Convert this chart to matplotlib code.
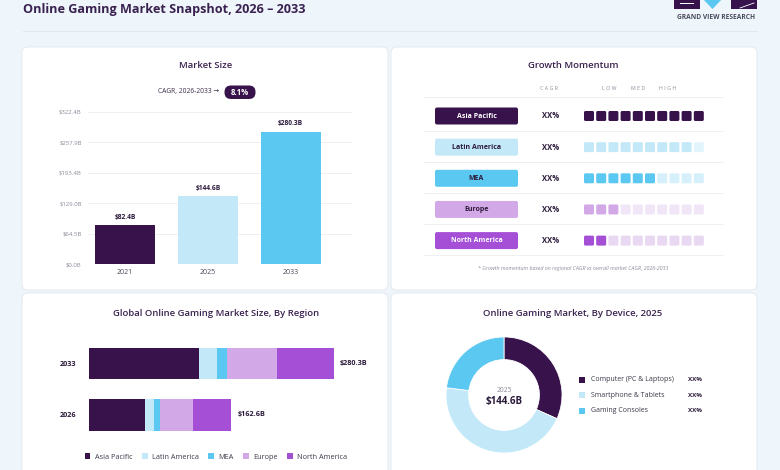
import numpy as np
import matplotlib
matplotlib.use("Agg")
import matplotlib.pyplot as plt
from matplotlib.patches import FancyBboxPatch, Rectangle, Polygon, Patch

plt.rcParams['font.family'] = ['Open Sans', 'DejaVu Sans']

W, H = 780, 470

# ---- data ----
years = ['2021', '2025', '2033']
market_size = [82.4, 144.6, 280.3]
y_ticks = [0.0, 64.5, 129.0, 193.4, 257.9, 322.4]
cagr_text = '8.1%'

regions = ['Asia Pacific', 'Latin America', 'MEA', 'Europe', 'North America']
momentum_level = [10, 9, 6, 3, 2]
momentum_cagr = ['XX%', 'XX%', 'XX%', 'XX%', 'XX%']

region_years = ['2026', '2033']
asia_pacific = [63.7, 125.8]
latin_america = [11.0, 20.6]
mea = [6.5, 11.4]
europe = [37.4, 57.2]
north_america = [44.0, 65.3]
region_totals = [162.6, 280.3]

devices = ['Computer (PC & Laptops)', 'Smartphone & Tablets', 'Gaming Consoles']
device_share = [31.7, 45.3, 23.0]
device_pct = ['XX%', 'XX%', 'XX%']
device_total = '$144.6B'

# ---- style ----
dark = '#38124a'
lblue = '#c3e9f8'
sky = '#5bc8f1'
lav = '#d3a8e6'
purple = '#a54fd7'
region_colors = [dark, lblue, sky, lav, purple]
pale_colors = ['#efe8f3', '#e3f5fc', '#d6f0fb', '#f1e6f7', '#e8d8f2']
title_col = '#3a2250'
text_dark = '#2b1a3a'
gray = '#8a8a99'

fig = plt.figure(figsize=(7.8, 4.7), dpi=100)
fig.patch.set_facecolor('#eef5fb')


def add_ax(x0, y0, x1, y1):
    return fig.add_axes([x0 / W, 1 - y1 / H, (x1 - x0) / W, (y1 - y0) / H])


canvas = fig.add_axes([0, 0, 1, 1])
canvas.set_xlim(0, W)
canvas.set_ylim(H, 0)
canvas.axis('off')

# cards
for x0, y0, x1, y1 in [(22, 47, 388, 290), (391, 47, 757, 290),
                       (22, 293, 388, 478), (391, 293, 757, 478)]:
    canvas.add_patch(FancyBboxPatch((x0, y0), x1 - x0, y1 - y0,
                                    boxstyle='round,pad=0,rounding_size=6',
                                    fc='white', ec='#e2e8ef', lw=0.6))

# header
canvas.text(23, 9.5, 'Online Gaming Market Snapshot, 2026 – 2033', fontsize=9.1,
            fontweight='bold', color=title_col, va='center')
canvas.plot([23, 757], [31, 31], color='#e2e8ef', lw=0.8)
canvas.add_patch(Rectangle((674, -2), 26, 11, fc=dark))
canvas.add_patch(Rectangle((680, 3), 14, 1.2, fc='white'))
canvas.add_patch(Polygon([(702, -2), (723, -2), (712.5, 9)], fc=sky))
canvas.add_patch(Rectangle((731, -2), 26, 11, fc=dark))
canvas.plot([740, 754], [8, 3], color='white', lw=0.6)
canvas.text(716, 17.3, 'GRAND VIEW RESEARCH', fontsize=4.8, fontweight='bold',
            color='#4a4a5e', ha='center', va='center')

# ---- Market size ----
canvas.text(205.5, 66, 'Market Size', ha='center', va='center', fontsize=6.8,
            fontweight='semibold', color=title_col)
canvas.text(219, 92, 'CAGR, 2026-2033 →', ha='right', va='center', fontsize=4.8,
            color='#3a2a4a')
canvas.add_patch(FancyBboxPatch((224.5, 85.5), 31, 13.5,
                                boxstyle='round,pad=0,rounding_size=6.5', fc=dark, ec='none'))
canvas.text(240, 92.3, cagr_text, ha='center', va='center', fontsize=5.6,
            fontweight='bold', color='white')

ax = add_ax(88, 111.7, 352, 264.3)
ax.set_facecolor('none')
x = np.arange(len(years))
ax.bar(x, market_size, width=0.73, color=region_colors[:3], zorder=2)
for i, v in enumerate(market_size):
    ax.annotate(f'${v}B', (i, v), xytext=(0, 3), textcoords='offset points',
                ha='center', va='bottom', fontsize=4.8, fontweight='bold', color=text_dark)
ax.set_xlim(-0.449, 2.739)
ax.set_ylim(0, 322.4)
ax.set_xticks(x)
ax.set_xticklabels(years)
ax.set_yticks(y_ticks)
ax.set_yticklabels([f'${t:.1f}B' for t in y_ticks])
ax.yaxis.grid(True, color='#eceef2', lw=0.6)
ax.set_axisbelow(True)
for s in ax.spines.values():
    s.set_visible(False)
ax.tick_params(axis='y', length=0, pad=4.5, labelsize=4.3, labelcolor=gray)
ax.tick_params(axis='x', length=0, pad=3.2, labelsize=5, labelcolor='#4a4a5a')

# ---- Growth momentum ----
canvas.text(573, 66, 'Growth Momentum', ha='center', va='center', fontsize=6.8,
            fontweight='semibold', color=title_col)
for lbl, hx in [('C A G R', 549), ('L O W', 609), ('M E D', 638), ('H I G H', 668)]:
    canvas.text(hx, 88, lbl, ha='center', va='center', fontsize=3.8, color=gray)
for ly in [97.3, 131, 162.3, 193.3, 224.3, 255]:
    canvas.plot([424, 723], [ly, ly], color='#eef0f4', lw=0.7)
for r, (name, lvl, cg) in enumerate(zip(regions, momentum_level, momentum_cagr)):
    yc = 116 + 31.15 * r
    canvas.add_patch(FancyBboxPatch((435, yc - 8.5), 83, 17,
                                    boxstyle='round,pad=0,rounding_size=2',
                                    fc=region_colors[r], ec='none'))
    tc = 'white' if r in (0, 4) else text_dark
    canvas.text(476.5, yc, name, ha='center', va='center', fontsize=5,
                fontweight='bold', color=tc)
    canvas.text(550.5, yc, cg, ha='center', va='center', fontsize=5.5,
                fontweight='bold', color=text_dark)
    for i in range(10):
        c = region_colors[r] if i < lvl else pale_colors[r]
        canvas.add_patch(FancyBboxPatch((584 + 12.2 * i, yc - 5), 10, 10,
                                        boxstyle='round,pad=0,rounding_size=1.5',
                                        fc=c, ec='none'))
canvas.text(573, 268, '* Growth momentum based on regional CAGR vs overall market CAGR, 2026-2033',
            ha='center', va='center', fontsize=3.8, style='italic', color=gray)

# ---- Region stacked bars ----
canvas.text(215.7, 314, 'Global Online Gaming Market Size, By Region', ha='center',
            va='center', fontsize=6.8, fontweight='semibold', color=title_col)
ax2 = add_ax(89, 332.3, 368.7, 445.8)
ax2.set_facecolor('none')
yy = np.arange(len(region_years))
left = np.zeros(len(region_years))
for vals, col, name in zip([asia_pacific, latin_america, mea, europe, north_america],
                           region_colors, regions):
    ax2.barh(yy, vals, left=left, height=0.61, color=col, label=name)
    left += np.array(vals)
for i, t in enumerate(region_totals):
    ax2.annotate(f'${t}B', (left[i], i), xytext=(4.5, 0), textcoords='offset points',
                 ha='left', va='center', fontsize=5.2, fontweight='bold', color=text_dark)
ax2.set_xlim(0, 320)
ax2.set_ylim(-0.6, 1.6)
ax2.set_yticks(yy)
ax2.set_yticklabels(region_years, fontweight='bold')
ax2.set_xticks([])
for s in ax2.spines.values():
    s.set_visible(False)
ax2.tick_params(axis='y', length=0, pad=9, labelsize=5.2, labelcolor=text_dark)
fig.legend(handles=[Patch(fc=c, label=n) for c, n in zip(region_colors, regions)],
           loc='center', bbox_to_anchor=(216 / W, 1 - 457 / H), ncol=5, frameon=False,
           fontsize=5.2, handlelength=0.8, handleheight=0.8, handletextpad=0.6,
           columnspacing=1.3, labelcolor='#3a3a4a')

# ---- Device donut ----
canvas.text(573, 314, 'Online Gaming Market, By Device, 2025', ha='center', va='center',
            fontsize=6.8, fontweight='semibold', color=title_col)
ax3 = add_ax(504 - 65, 395 - 65, 504 + 65, 395 + 65)
ax3.pie(device_share, colors=region_colors[:3], startangle=90, counterclock=False,
        radius=1, wedgeprops=dict(width=0.39, edgecolor='white', linewidth=0.6))
ax3.set_xlim(-1.12, 1.12)
ax3.set_ylim(-1.12, 1.12)
ax3.text(0, 0.07, '2025', ha='center', va='center', fontsize=4.8, color=gray)
ax3.text(0, -0.12, device_total, ha='center', va='center', fontsize=7,
         fontweight='bold', color=text_dark)
for i, (d, p) in enumerate(zip(devices, device_pct)):
    yc = 379.5 + 15.6 * i
    canvas.add_patch(Rectangle((579, yc - 3), 6, 6, fc=region_colors[i]))
    canvas.text(591, yc, d, ha='left', va='center', fontsize=5, color='#3a3a4a')
    canvas.text(688, yc, p, ha='left', va='center', fontsize=4.5, fontweight='bold',
                color=text_dark)

fig.savefig('out.png', dpi=100, facecolor=fig.get_facecolor())
